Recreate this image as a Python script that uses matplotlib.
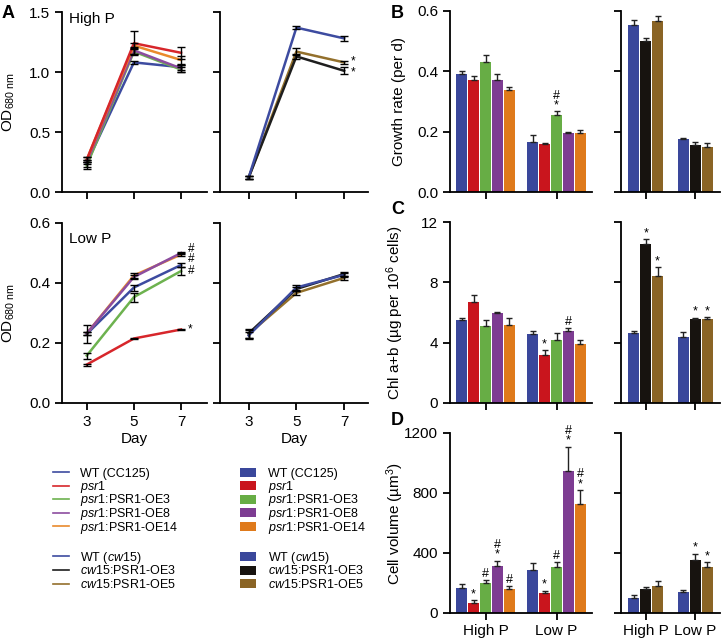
import numpy as np
import matplotlib.pyplot as plt
from matplotlib.lines import Line2D
from matplotlib.patches import Patch

# Arial-lignende skrift, kursiv for stammenavn via mathtext
plt.rcParams['font.family'] = ['Liberation Sans', 'DejaVu Sans']
plt.rcParams['mathtext.fontset'] = 'custom'
plt.rcParams['mathtext.rm'] = 'Liberation Sans'
plt.rcParams['mathtext.it'] = 'Liberation Sans:italic'
plt.rcParams['mathtext.bf'] = 'Liberation Sans:bold'
plt.rcParams['axes.linewidth'] = 1.3

# ---- data ----
days = [3, 5, 7]
groups = ['High P', 'Low P']

psr_names = ['WT (CC125)', r'$\mathit{psr1}$', r'$\mathit{psr1}$:PSR1-OE3',
             r'$\mathit{psr1}$:PSR1-OE8', r'$\mathit{psr1}$:PSR1-OE14']
cw_names = [r'WT ($\mathit{cw15}$)', r'$\mathit{cw15}$:PSR1-OE3', r'$\mathit{cw15}$:PSR1-OE5']

# A: OD680, rekkefolge WT, psr1, OE3, OE8, OE14
od_high_psr = [[0.24, 1.08, 1.04], [0.27, 1.24, 1.16], [0.22, 1.17, 1.02],
               [0.25, 1.18, 1.03], [0.27, 1.22, 1.10]]
od_high_psr_err = [[0.03, 0.01, 0.02], [0.02, 0.10, 0.05], [0.03, 0.02, 0.02],
                   [0.02, 0.03, 0.03], [0.02, 0.02, 0.03]]
od_high_cw = [[0.12, 1.37, 1.28], [0.12, 1.13, 1.01], [0.12, 1.17, 1.08]]
od_high_cw_err = [[0.01, 0.015, 0.02], [0.01, 0.02, 0.03], [0.01, 0.03, 0.015]]
od_high_cw_marks = ['', '*', '*']

od_low_psr = [[0.23, 0.385, 0.46], [0.128, 0.215, 0.245], [0.158, 0.353, 0.44],
              [0.232, 0.42, 0.50], [0.232, 0.425, 0.495]]
od_low_psr_err = [[0.03, 0.01, 0.008], [0.003, 0.003, 0.003], [0.01, 0.015, 0.012],
                  [0.005, 0.008, 0.004], [0.005, 0.008, 0.004]]
od_low_psr_marks = ['', '*', '#', '#', '#']
od_low_cw = [[0.225, 0.385, 0.427], [0.232, 0.38, 0.43], [0.23, 0.367, 0.417]]
od_low_cw_err = [[0.012, 0.008, 0.008], [0.015, 0.008, 0.008], [0.012, 0.008, 0.008]]

# B: vekstrate
gr_psr = [[0.39, 0.37, 0.43, 0.37, 0.337], [0.165, 0.16, 0.255, 0.197, 0.196]]
gr_psr_err = [[0.01, 0.015, 0.025, 0.022, 0.012], [0.025, 0.002, 0.012, 0.003, 0.008]]
gr_psr_marks = [['', '', '', '', ''], ['', '', '#\n*', '', '']]
gr_cw = [[0.555, 0.50, 0.568], [0.175, 0.157, 0.148]]
gr_cw_err = [[0.015, 0.012, 0.015], [0.005, 0.008, 0.015]]
gr_cw_marks = [['', '', ''], ['', '', '']]

# C: klorofyll
chl_psr = [[5.5, 6.7, 5.1, 5.95, 5.15], [4.55, 3.15, 4.2, 4.8, 3.9]]
chl_psr_err = [[0.15, 0.45, 0.4, 0.1, 0.5], [0.2, 0.35, 0.45, 0.15, 0.3]]
chl_psr_marks = [['', '', '', '', ''], ['', '*', '', '#', '']]
chl_cw = [[4.65, 10.55, 8.4], [4.4, 5.55, 5.55]]
chl_cw_err = [[0.1, 0.3, 0.6], [0.3, 0.1, 0.15]]
chl_cw_marks = [['', '*', '*'], ['', '*', '*']]

# D: cellevolum
vol_psr = [[170, 70, 200, 315, 160], [290, 135, 310, 950, 725]]
vol_psr_err = [[25, 15, 20, 35, 20], [45, 15, 30, 160, 95]]
vol_psr_marks = [['', '*', '#', '#\n*', '#'], ['', '*', '#', '#\n*', '#\n*']]
vol_cw = [[100, 160, 180], [140, 355, 305]]
vol_cw_err = [[20, 15, 35], [15, 40, 35]]
vol_cw_marks = [['', '', ''], ['', '*', '*']]

line_psr_col = ['#3d4ba0', '#d7262b', '#6db24f', '#8c4d9f', '#e98a2c']
line_cw_col = ['#3d4ba0', '#1e1e1e', '#93702c']
bar_psr_col = ['#3a479b', '#c9151d', '#67ad45', '#7d3c92', '#df7a1b']
bar_cw_col = ['#3a479b', '#17130f', '#8a6425']

W, H = 722, 642
fig = plt.figure(figsize=(W / 100, H / 100), dpi=100)


def px_axes(left, top, right, bottom):
    # akser plassert i piksler (fra toppen)
    return fig.add_axes([left / W, 1 - bottom / H, (right - left) / W, (bottom - top) / H])


def style(ax):
    ax.spines['top'].set_visible(False)
    ax.spines['right'].set_visible(False)
    ax.tick_params(direction='out', length=5, width=1.3, labelsize=11)


def draw_lines(ax, vals, errs, cols, order, marks=None, mark_dy=None):
    for i in order:
        ax.plot(days, vals[i], color=cols[i], lw=1.8, zorder=2)
    for i in order:
        ax.errorbar(days, vals[i], yerr=errs[i], fmt='none', ecolor='black',
                    elinewidth=1, capsize=3, capthick=1, zorder=3)
    if marks:
        for i, m in enumerate(marks):
            if m:
                dy = mark_dy[i] if mark_dy else 0
                ax.annotate(m, (days[-1], vals[i][-1]), xytext=(5, dy),
                            textcoords='offset points', va='center', fontsize=8.5)


def draw_bars(ax, vals, errs, marks, cols, pitch, width):
    n = len(cols)
    for g in range(len(vals)):
        for i in range(n):
            x = g + (i - (n - 1) / 2) * pitch
            ax.bar(x, vals[g][i], width, color=cols[i], edgecolor='none', zorder=2)
            ax.errorbar(x, vals[g][i], yerr=[[0], [errs[g][i]]], fmt='none',
                        ecolor='#222222', elinewidth=1, capsize=2.5, capthick=1, zorder=3)
            if marks[g][i]:
                ax.annotate(marks[g][i], (x, vals[g][i] + errs[g][i]), xytext=(0, 0),
                            textcoords='offset points', ha='center', va='bottom',
                            fontsize=9, linespacing=0.75)
    ax.set_xlim(-0.5, 1.5)
    ax.set_xticks([0, 1])


# ---- panel A ----
a1 = px_axes(62, 12, 207, 192)
draw_lines(a1, od_high_psr, od_high_psr_err, line_psr_col, [0, 2, 3, 4, 1])
a1.set_ylim(0, 1.5)
a1.set_yticks([0, 0.5, 1.0, 1.5])
a1.set_yticklabels(['0.0', '0.5', '1.0', '1.5'])
a1.set_xlim(1.95, 8.1)
a1.set_xticks(days)
a1.set_xticklabels([])
a1.set_ylabel(r'OD$_{680\ \mathrm{nm}}$', fontsize=11)
a1.yaxis.set_label_coords(-0.31, 0.5)
a1.text(0.05, 0.96, 'High P', transform=a1.transAxes, fontsize=11, va='center')
style(a1)

a2 = px_axes(220, 12, 368, 192)
draw_lines(a2, od_high_cw, od_high_cw_err, line_cw_col, [2, 1, 0], od_high_cw_marks, [0, -1, 1])
a2.set_ylim(0, 1.5)
a2.set_yticks([0, 0.5, 1.0, 1.5])
a2.set_yticklabels([])
a2.set_xlim(1.8, 8.0)
a2.set_xticks(days)
a2.set_xticklabels([])
style(a2)

a3 = px_axes(62, 223, 207, 403)
draw_lines(a3, od_low_psr, od_low_psr_err, line_psr_col, [0, 2, 1, 4, 3],
           od_low_psr_marks, [0, 0, 0, 3, -3])
a3.set_ylim(0, 0.6)
a3.set_yticks([0, 0.2, 0.4, 0.6])
a3.set_yticklabels(['0.0', '0.2', '0.4', '0.6'])
a3.set_xlim(1.95, 8.1)
a3.set_xticks(days)
a3.set_xlabel('Day', fontsize=11, labelpad=2)
a3.set_ylabel(r'OD$_{680\ \mathrm{nm}}$', fontsize=11)
a3.yaxis.set_label_coords(-0.31, 0.5)
a3.text(0.05, 0.91, 'Low P', transform=a3.transAxes, fontsize=11, va='center')
style(a3)

a4 = px_axes(220, 223, 368, 403)
draw_lines(a4, od_low_cw, od_low_cw_err, line_cw_col, [2, 1, 0])
a4.set_ylim(0, 0.6)
a4.set_yticks([0, 0.2, 0.4, 0.6])
a4.set_yticklabels([])
a4.set_xlim(1.8, 8.0)
a4.set_xticks(days)
a4.set_xlabel('Day', fontsize=11, labelpad=2)
style(a4)

# ---- panel B, C, D ----
bar_rows = [
    (11, 192, gr_psr, gr_psr_err, gr_psr_marks, gr_cw, gr_cw_err, gr_cw_marks,
     (0, 0.6), [0, 0.2, 0.4, 0.6], ['0.0', '0.2', '0.4', '0.6'], 'Growth rate (per d)'),
    (222, 403, chl_psr, chl_psr_err, chl_psr_marks, chl_cw, chl_cw_err, chl_cw_marks,
     (0, 12), [0, 4, 8, 12], ['0', '4', '8', '12'], r'Chl a+b (µg per 10$^6$ cells)'),
    (433, 613, vol_psr, vol_psr_err, vol_psr_marks, vol_cw, vol_cw_err, vol_cw_marks,
     (0, 1200), [0, 400, 800, 1200], ['0', '400', '800', '1200'], r'Cell volume (µm$^3$)'),
]

for k, (top, bot, pv, pe, pm, cv, ce, cm, ylim, yt, ytl, ylab) in enumerate(bar_rows):
    bl = px_axes(450, top, 592, bot)
    draw_bars(bl, pv, pe, pm, bar_psr_col, 0.168, 0.158)
    bl.set_ylim(*ylim)
    bl.set_yticks(yt)
    bl.set_yticklabels(ytl)
    bl.set_ylabel(ylab, fontsize=11)
    bl.yaxis.set_label_coords(-0.31, 0.5)
    style(bl)

    br = px_axes(621, top, 720, bot)
    draw_bars(br, cv, ce, cm, bar_cw_col, 0.24, 0.225)
    br.set_ylim(*ylim)
    br.set_yticks(yt)
    br.set_yticklabels([])
    style(br)

    if k == 2:
        bl.set_xticklabels(groups)
        br.set_xticklabels(groups)
        bl.tick_params(axis='x', pad=3)
        br.tick_params(axis='x', pad=3)
    else:
        bl.set_xticklabels([])
        br.set_xticklabels([])

# panelbokstaver
for txt, x, y in [('A', 2, 5), ('B', 391, 5), ('C', 391, 201), ('D', 391, 412)]:
    fig.text(x / W, 1 - y / H, txt, fontsize=13, fontweight='bold', va='top', ha='left')


# ---- forklaringer: en rad om gangen for jevn avstand ----
def legend_rows(handles, labels, x, y0, step=13.5):
    for i, (h, lab) in enumerate(zip(handles, labels)):
        fig.legend([h], [lab], loc='center left',
                   bbox_to_anchor=(x / W, 1 - (y0 + i * step) / H),
                   frameon=False, fontsize=9, handlelength=1.3, handleheight=0.7,
                   handletextpad=0.9, borderpad=0, borderaxespad=0)


legend_rows([Line2D([], [], color=c, lw=1.2) for c in line_psr_col], psr_names, 53, 473.5)
legend_rows([Line2D([], [], color=c, lw=1.2) for c in line_cw_col], cw_names, 53, 557.5)
legend_rows([Patch(facecolor=c, edgecolor='none') for c in bar_psr_col], psr_names, 240, 473.5)
legend_rows([Patch(facecolor=c, edgecolor='none') for c in bar_cw_col], cw_names, 240, 557.5)

fig.savefig('out.png', dpi=100)
